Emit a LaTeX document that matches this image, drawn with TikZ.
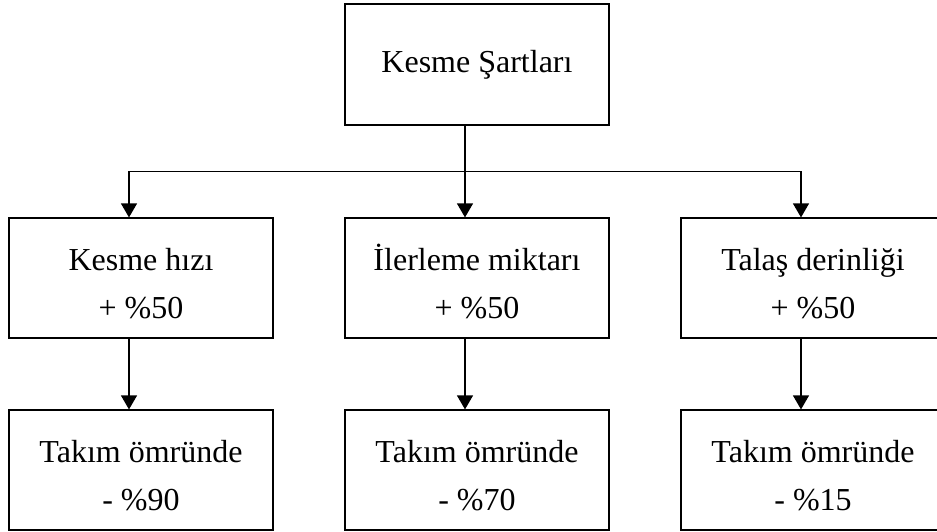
\documentclass[tikz,border=0pt]{standalone}
\usepackage{fontspec}
\setmainfont{Liberation Serif}
\usetikzlibrary{arrows.meta}

\newcommand{\ustbosluk}{\rule{0pt}{17pt}}

\tikzset{
	kutu/.style={draw, line width=0.6pt, minimum width=132pt, minimum height=60pt,
		align=center, font=\fontsize{16pt}{24pt}\selectfont},
	ok/.style={draw, line width=0.6pt, -{Triangle[length=7pt,width=8pt]}}
}

\begin{document}
\begin{tikzpicture}[
			edge from parent/.style={ok},
			level 1/.style={sibling distance=168pt, level distance=106.75pt,
				edge from parent path={([xshift=-6pt]\tikzparentnode.south) -- ++(0,-23pt)
					-| ([xshift=-6pt]\tikzchildnode.north)}},
			level 2/.style={level distance=96pt,
				edge from parent path={([xshift=-6pt]\tikzparentnode.south)
					-- ([xshift=-6pt]\tikzchildnode.north)}}
		]
		\clip (-238.5pt,32.25pt) rectangle (230pt,-233.25pt);
		\node[kutu, minimum height=60.5pt] (sartlar) {Kesme Şartları}
		child {
				node[kutu] (hiz) {\ustbosluk Kesme hızı\\+ \%50}
				child {node[kutu] (omurhiz) {\ustbosluk Takım ömründe\\- \%90}}
			}
		child {
				node[kutu] (ilerleme) {\ustbosluk İlerleme miktarı\\+ \%50}
				child {node[kutu] (omurilerleme) {\ustbosluk Takım ömründe\\- \%70}}
			}
		child {
				node[kutu] (derinlik) {\ustbosluk Talaş derinliği\\+ \%50}
				child {node[kutu] (omurderinlik) {\ustbosluk Takım ömründe\\- \%15}}
			};
	\end{tikzpicture}
\end{document}
